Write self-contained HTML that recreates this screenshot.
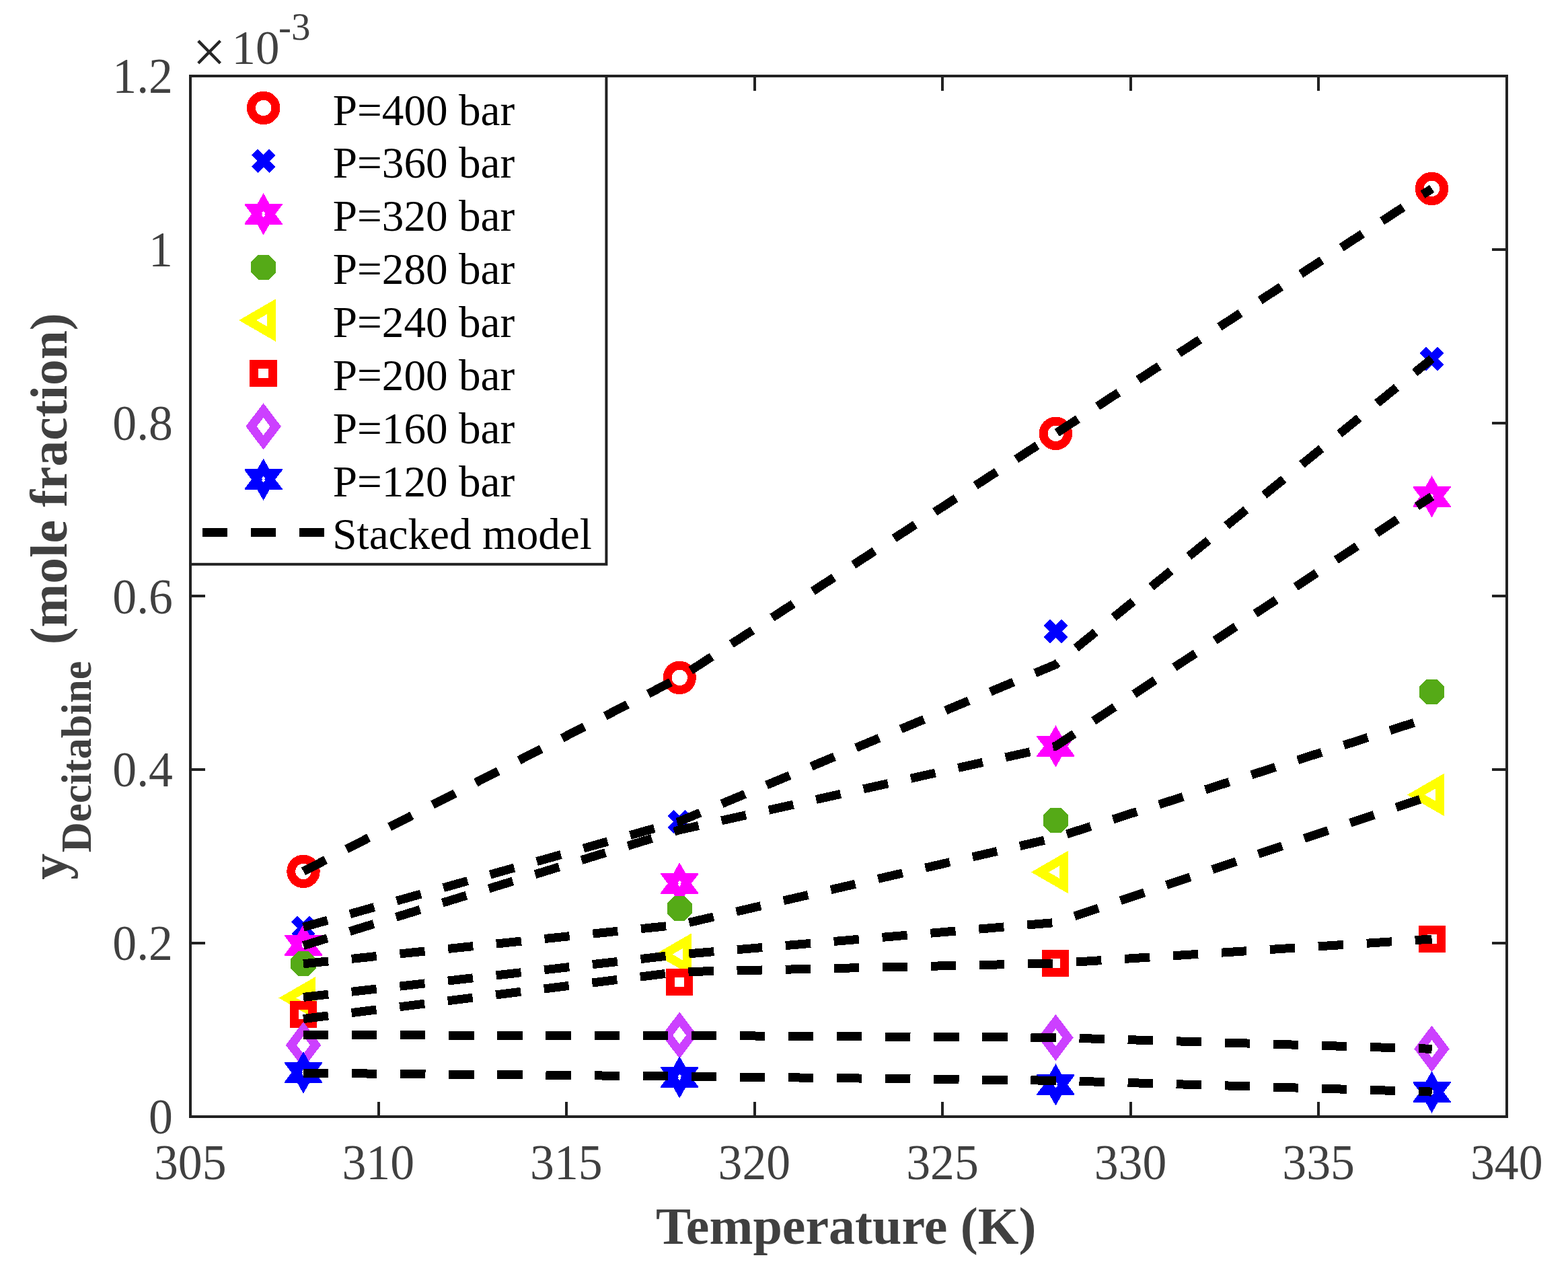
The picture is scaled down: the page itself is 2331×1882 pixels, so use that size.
<!DOCTYPE html>
<html lang="en"><head><meta charset="utf-8"><title>Decitabine solubility - stacked model</title>
<style>html,body{margin:0;padding:0;background:#fff}body{width:2331px;height:1882px;overflow:hidden}svg{display:block}text{font-family:'Liberation Serif', serif}</style>
</head><body>
<svg width="2331" height="1882" viewBox="0 0 2331 1882">
<rect width="2331" height="1882" fill="#fff"/>
<g shape-rendering="crispEdges">
<circle cx="451" cy="1295.4" r="18.2" fill="none" stroke="#ff0000" stroke-width="13.0"/>
<circle cx="1010.2" cy="1007.4" r="18.2" fill="none" stroke="#ff0000" stroke-width="13.0"/>
<circle cx="1569.4" cy="644.4" r="18.2" fill="none" stroke="#ff0000" stroke-width="13.0"/>
<circle cx="2128.5" cy="280.5" r="18.2" fill="none" stroke="#ff0000" stroke-width="13.0"/>
<path d="M437.9 1366.1L464.1 1392.3M437.9 1392.3L464.1 1366.1" fill="none" stroke="#0000ff" stroke-width="13.0"/>
<path d="M997.1 1208.5L1023.3 1234.7M997.1 1234.7L1023.3 1208.5" fill="none" stroke="#0000ff" stroke-width="13.0"/>
<path d="M1556.3 925.4L1582.5 951.6M1556.3 951.6L1582.5 925.4" fill="none" stroke="#0000ff" stroke-width="13.0"/>
<path d="M2115.4 520.4L2141.6 546.6M2115.4 546.6L2141.6 520.4" fill="none" stroke="#0000ff" stroke-width="13.0"/>
<path d="M451 1374L459.9 1389.7L479 1389.7L479 1391.5L468.6 1405.2L479 1418.9L479 1420.7L459.9 1420.7L451 1436.4L442.1 1420.7L423 1420.7L423 1418.9L433.4 1405.2L423 1391.5L423 1389.7L442.1 1389.7ZM451 1400.6L453.6 1403.6L452.4 1405.2L453.6 1406.8L451 1409.8L448.4 1406.8L449.6 1405.2L448.4 1403.6Z" fill="#ff00ff" fill-rule="evenodd"/>
<path d="M1010.2 1282.2L1019.1 1297.9L1038.2 1297.9L1038.2 1299.7L1027.8 1313.4L1038.2 1327.1L1038.2 1328.9L1019.1 1328.9L1010.2 1344.6L1001.3 1328.9L982.2 1328.9L982.2 1327.1L992.6 1313.4L982.2 1299.7L982.2 1297.9L1001.3 1297.9ZM1010.2 1308.8L1012.8 1311.8L1011.6 1313.4L1012.8 1315L1010.2 1318L1007.6 1315L1008.8 1313.4L1007.6 1311.8Z" fill="#ff00ff" fill-rule="evenodd"/>
<path d="M1569.4 1078.3L1578.3 1094L1597.4 1094L1597.4 1095.8L1587 1109.5L1597.4 1123.2L1597.4 1125L1578.3 1125L1569.4 1140.7L1560.5 1125L1541.4 1125L1541.4 1123.2L1551.8 1109.5L1541.4 1095.8L1541.4 1094L1560.5 1094ZM1569.4 1104.9L1572 1107.9L1570.8 1109.5L1572 1111.1L1569.4 1114.1L1566.8 1111.1L1568 1109.5L1566.8 1107.9Z" fill="#ff00ff" fill-rule="evenodd"/>
<path d="M2128.5 707.1L2137.4 722.8L2156.5 722.8L2156.5 724.6L2146.1 738.3L2156.5 752L2156.5 753.8L2137.4 753.8L2128.5 769.5L2119.6 753.8L2100.5 753.8L2100.5 752L2110.9 738.3L2100.5 724.6L2100.5 722.8L2119.6 722.8ZM2128.5 733.7L2131.1 736.7L2129.9 738.3L2131.1 739.9L2128.5 742.9L2125.9 739.9L2127.1 738.3L2125.9 736.7Z" fill="#ff00ff" fill-rule="evenodd"/>
<path d="M469.55 1439.98L458.68 1450.85L443.32 1450.85L432.45 1439.98L432.45 1424.62L443.32 1413.75L458.68 1413.75L469.55 1424.62Z" fill="#55aa17"/>
<path d="M1028.75 1358.18L1017.88 1369.05L1002.52 1369.05L991.65 1358.18L991.65 1342.82L1002.52 1331.95L1017.88 1331.95L1028.75 1342.82Z" fill="#55aa17"/>
<path d="M1587.95 1227.08L1577.08 1237.95L1561.72 1237.95L1550.85 1227.08L1550.85 1211.72L1561.72 1200.85L1577.08 1200.85L1587.95 1211.72Z" fill="#55aa17"/>
<path d="M2147.05 1036.08L2136.18 1046.95L2120.82 1046.95L2109.95 1036.08L2109.95 1020.72L2120.82 1009.85L2136.18 1009.85L2147.05 1020.72Z" fill="#55aa17"/>
<path d="M427.5 1483.5L462.75 1463.15L462.75 1503.85Z" fill="none" stroke="#ffff00" stroke-width="13.0" stroke-linejoin="miter" stroke-miterlimit="10"/>
<path d="M986.7 1418.7L1021.95 1398.35L1021.95 1439.05Z" fill="none" stroke="#ffff00" stroke-width="13.0" stroke-linejoin="miter" stroke-miterlimit="10"/>
<path d="M1545.9 1296.5L1581.15 1276.15L1581.15 1316.85Z" fill="none" stroke="#ffff00" stroke-width="13.0" stroke-linejoin="miter" stroke-miterlimit="10"/>
<path d="M2105 1181.5L2140.25 1161.15L2140.25 1201.85Z" fill="none" stroke="#ffff00" stroke-width="13.0" stroke-linejoin="miter" stroke-miterlimit="10"/>
<rect x="437.5" y="1494.5" width="27.0" height="27.0" fill="none" stroke="#ff0000" stroke-width="13.0"/>
<rect x="996.7" y="1446.5" width="27.0" height="27.0" fill="none" stroke="#ff0000" stroke-width="13.0"/>
<rect x="1555.9" y="1418.5" width="27.0" height="27.0" fill="none" stroke="#ff0000" stroke-width="13.0"/>
<rect x="2115" y="1382.4" width="27.0" height="27.0" fill="none" stroke="#ff0000" stroke-width="13.0"/>
<path d="M451 1529.75L469.1 1553.6L451 1577.45L432.9 1553.6Z" fill="none" stroke="#cc40ff" stroke-width="13.0" stroke-linejoin="miter" stroke-miterlimit="10"/>
<path d="M1010.2 1515.15L1028.3 1539L1010.2 1562.85L992.1 1539Z" fill="none" stroke="#cc40ff" stroke-width="13.0" stroke-linejoin="miter" stroke-miterlimit="10"/>
<path d="M1569.4 1518.55L1587.5 1542.4L1569.4 1566.25L1551.3 1542.4Z" fill="none" stroke="#cc40ff" stroke-width="13.0" stroke-linejoin="miter" stroke-miterlimit="10"/>
<path d="M2128.5 1535.35L2146.6 1559.2L2128.5 1583.05L2110.4 1559.2Z" fill="none" stroke="#cc40ff" stroke-width="13.0" stroke-linejoin="miter" stroke-miterlimit="10"/>
<path d="M451 1563.3L459.9 1579L479 1579L479 1580.8L468.6 1594.5L479 1608.2L479 1610L459.9 1610L451 1625.7L442.1 1610L423 1610L423 1608.2L433.4 1594.5L423 1580.8L423 1579L442.1 1579ZM451 1589.9L453.6 1592.9L452.4 1594.5L453.6 1596.1L451 1599.1L448.4 1596.1L449.6 1594.5L448.4 1592.9Z" fill="#0000ff" fill-rule="evenodd"/>
<path d="M1010.2 1570.2L1019.1 1585.9L1038.2 1585.9L1038.2 1587.7L1027.8 1601.4L1038.2 1615.1L1038.2 1616.9L1019.1 1616.9L1010.2 1632.6L1001.3 1616.9L982.2 1616.9L982.2 1615.1L992.6 1601.4L982.2 1587.7L982.2 1585.9L1001.3 1585.9ZM1010.2 1596.8L1012.8 1599.8L1011.6 1601.4L1012.8 1603L1010.2 1606L1007.6 1603L1008.8 1601.4L1007.6 1599.8Z" fill="#0000ff" fill-rule="evenodd"/>
<path d="M1569.4 1581.3L1578.3 1597L1597.4 1597L1597.4 1598.8L1587 1612.5L1597.4 1626.2L1597.4 1628L1578.3 1628L1569.4 1643.7L1560.5 1628L1541.4 1628L1541.4 1626.2L1551.8 1612.5L1541.4 1598.8L1541.4 1597L1560.5 1597ZM1569.4 1607.9L1572 1610.9L1570.8 1612.5L1572 1614.1L1569.4 1617.1L1566.8 1614.1L1568 1612.5L1566.8 1610.9Z" fill="#0000ff" fill-rule="evenodd"/>
<path d="M2128.5 1592.4L2137.4 1608.1L2156.5 1608.1L2156.5 1609.9L2146.1 1623.6L2156.5 1637.3L2156.5 1639.1L2137.4 1639.1L2128.5 1654.8L2119.6 1639.1L2100.5 1639.1L2100.5 1637.3L2110.9 1623.6L2100.5 1609.9L2100.5 1608.1L2119.6 1608.1ZM2128.5 1619L2131.1 1622L2129.9 1623.6L2131.1 1625.2L2128.5 1628.2L2125.9 1625.2L2127.1 1623.6L2125.9 1622Z" fill="#0000ff" fill-rule="evenodd"/>
<polyline points="451,1295.4 1010.2,1007.4 1569.4,644.4 2128.6,280.4" fill="none" stroke="#000" stroke-width="13.0" stroke-dasharray="37.3 34.8" stroke-linejoin="miter"/>
<polyline points="451,1378.2 1010.2,1221 1569.4,987.8 2128.6,533.3" fill="none" stroke="#000" stroke-width="13.0" stroke-dasharray="37.3 34.8" stroke-linejoin="miter"/>
<polyline points="451,1405.7 1010.2,1233.8 1569.4,1109.2 2128.6,738" fill="none" stroke="#000" stroke-width="13.0" stroke-dasharray="37.3 34.8" stroke-linejoin="miter"/>
<polyline points="451,1432.8 1010.2,1374.7 1569.4,1245.3 2128.6,1065.8" fill="none" stroke="#000" stroke-width="13.0" stroke-dasharray="37.3 34.8" stroke-linejoin="miter"/>
<polyline points="451,1482.4 1010.2,1419 1569.4,1371.4 2128.6,1182.3" fill="none" stroke="#000" stroke-width="13.0" stroke-dasharray="37.3 34.8" stroke-linejoin="miter"/>
<polyline points="451,1514.6 1010.2,1444.8 1569.4,1432 2128.6,1396" fill="none" stroke="#000" stroke-width="13.0" stroke-dasharray="37.3 34.8" stroke-linejoin="miter"/>
<polyline points="451,1538.8 1010.2,1539.4 1569.4,1542.4 2128.6,1559.3" fill="none" stroke="#000" stroke-width="13.0" stroke-dasharray="37.3 34.8" stroke-linejoin="miter"/>
<polyline points="451,1595.2 1010.2,1600 1569.4,1606.3 2128.6,1623.1" fill="none" stroke="#000" stroke-width="13.0" stroke-dasharray="37.3 34.8" stroke-linejoin="miter"/>
</g>
<g stroke="#222222" stroke-width="4" fill="none">
<rect x="283.0" y="113.0" width="1957.0" height="1547.0"/>
<path d="M563 1660.0V1638.0M563 113.0V135.0M842 1660.0V1638.0M842 113.0V135.0M1122 1660.0V1638.0M1122 113.0V135.0M1401 1660.0V1638.0M1401 113.0V135.0M1681 1660.0V1638.0M1681 113.0V135.0M1960 1660.0V1638.0M1960 113.0V135.0M283.0 1402H305.0M2240.0 1402H2218.0M283.0 1144H305.0M2240.0 1144H2218.0M283.0 886H305.0M2240.0 886H2218.0M283.0 629H305.0M2240.0 629H2218.0M283.0 371H305.0M2240.0 371H2218.0"/>
</g>
<g fill="#404040" font-size="75">
<text transform="translate(282.7 1753) scale(0.957 1)" text-anchor="middle">305</text>
<text transform="translate(562.27 1753) scale(0.957 1)" text-anchor="middle">310</text>
<text transform="translate(841.84 1753) scale(0.957 1)" text-anchor="middle">315</text>
<text transform="translate(1121.41 1753) scale(0.957 1)" text-anchor="middle">320</text>
<text transform="translate(1400.99 1753) scale(0.957 1)" text-anchor="middle">325</text>
<text transform="translate(1680.56 1753) scale(0.957 1)" text-anchor="middle">330</text>
<text transform="translate(1960.13 1753) scale(0.957 1)" text-anchor="middle">335</text>
<text transform="translate(2239.7 1753) scale(0.957 1)" text-anchor="middle">340</text>
<text transform="translate(257 1685) scale(0.957 1)" text-anchor="end">0</text>
<text transform="translate(257 1427.17) scale(0.957 1)" text-anchor="end">0.2</text>
<text transform="translate(257 1169.33) scale(0.957 1)" text-anchor="end">0.4</text>
<text transform="translate(257 911.5) scale(0.957 1)" text-anchor="end">0.6</text>
<text transform="translate(257 653.67) scale(0.957 1)" text-anchor="end">0.8</text>
<text transform="translate(257 395.83) scale(0.957 1)" text-anchor="end">1</text>
<text transform="translate(257 138) scale(0.957 1)" text-anchor="end">1.2</text>
<text x="311" y="107" text-anchor="middle" font-size="88" fill="#262626">×</text>
<text x="344.5" y="95" font-size="71">10</text>
<text x="414" y="58.6" font-size="57">-3</text>
</g>
<g fill="#404040" font-weight="bold">
<text x="975" y="1848.8" font-size="78">Temperature (K)</text>
<text transform="translate(98.5 1307.8) rotate(-90)" font-size="78">y</text>
<text transform="translate(134.6 1267.2) rotate(-90)" font-size="62.5">Decitabine</text>
<text transform="translate(98.5 958.2) rotate(-90)" font-size="77.5">(mole fraction)</text>
</g>
<rect x="283.0" y="113.0" width="618.4" height="725.8" fill="#fff" stroke="#222222" stroke-width="4"/>
<g shape-rendering="crispEdges">
<circle cx="391.6" cy="160.5" r="18.2" fill="none" stroke="#ff0000" stroke-width="13.0"/>
<path d="M378.5 226.3L404.7 252.5M378.5 252.5L404.7 226.3" fill="none" stroke="#0000ff" stroke-width="13.0"/>
<path d="M391.6 287.1L400.5 302.8L419.6 302.8L419.6 304.6L409.2 318.3L419.6 332L419.6 333.8L400.5 333.8L391.6 349.5L382.7 333.8L363.6 333.8L363.6 332L374 318.3L363.6 304.6L363.6 302.8L382.7 302.8ZM391.6 313.7L394.2 316.7L393 318.3L394.2 319.9L391.6 322.9L389 319.9L390.2 318.3L389 316.7Z" fill="#ff00ff" fill-rule="evenodd"/>
<path d="M410.15 404.88L399.28 415.75L383.92 415.75L373.05 404.88L373.05 389.52L383.92 378.65L399.28 378.65L410.15 389.52Z" fill="#55aa17"/>
<path d="M368.1 476.1L403.35 455.75L403.35 496.45Z" fill="none" stroke="#ffff00" stroke-width="13.0" stroke-linejoin="miter" stroke-miterlimit="10"/>
<rect x="377.5" y="541.5" width="28" height="27" fill="none" stroke="#ff0000" stroke-width="13"/>
<path d="M391.6 610.05L409.7 633.9L391.6 657.75L373.5 633.9Z" fill="none" stroke="#cc40ff" stroke-width="13.0" stroke-linejoin="miter" stroke-miterlimit="10"/>
<path d="M391.6 681.6L400.5 697.3L419.6 697.3L419.6 699.1L409.2 712.8L419.6 726.5L419.6 728.3L400.5 728.3L391.6 744L382.7 728.3L363.6 728.3L363.6 726.5L374 712.8L363.6 699.1L363.6 697.3L382.7 697.3ZM391.6 708.2L394.2 711.2L393 712.8L394.2 714.4L391.6 717.4L389 714.4L390.2 712.8L389 711.2Z" fill="#0000ff" fill-rule="evenodd"/>
<path d="M301 791.5H482" fill="none" stroke="#000" stroke-width="13.0" stroke-dasharray="37 35"/>
</g>
<g fill="#000" font-size="65.2">
<text x="494.8" y="185.6">P=400 bar</text>
<text x="494.8" y="264.45">P=360 bar</text>
<text x="494.8" y="343.3">P=320 bar</text>
<text x="494.8" y="422.15">P=280 bar</text>
<text x="494.8" y="501">P=240 bar</text>
<text x="494.8" y="579.85">P=200 bar</text>
<text x="494.8" y="658.7">P=160 bar</text>
<text x="494.8" y="737.55">P=120 bar</text>
<text x="494.3" y="816.4">Stacked model</text>
</g>
</svg></body></html>
